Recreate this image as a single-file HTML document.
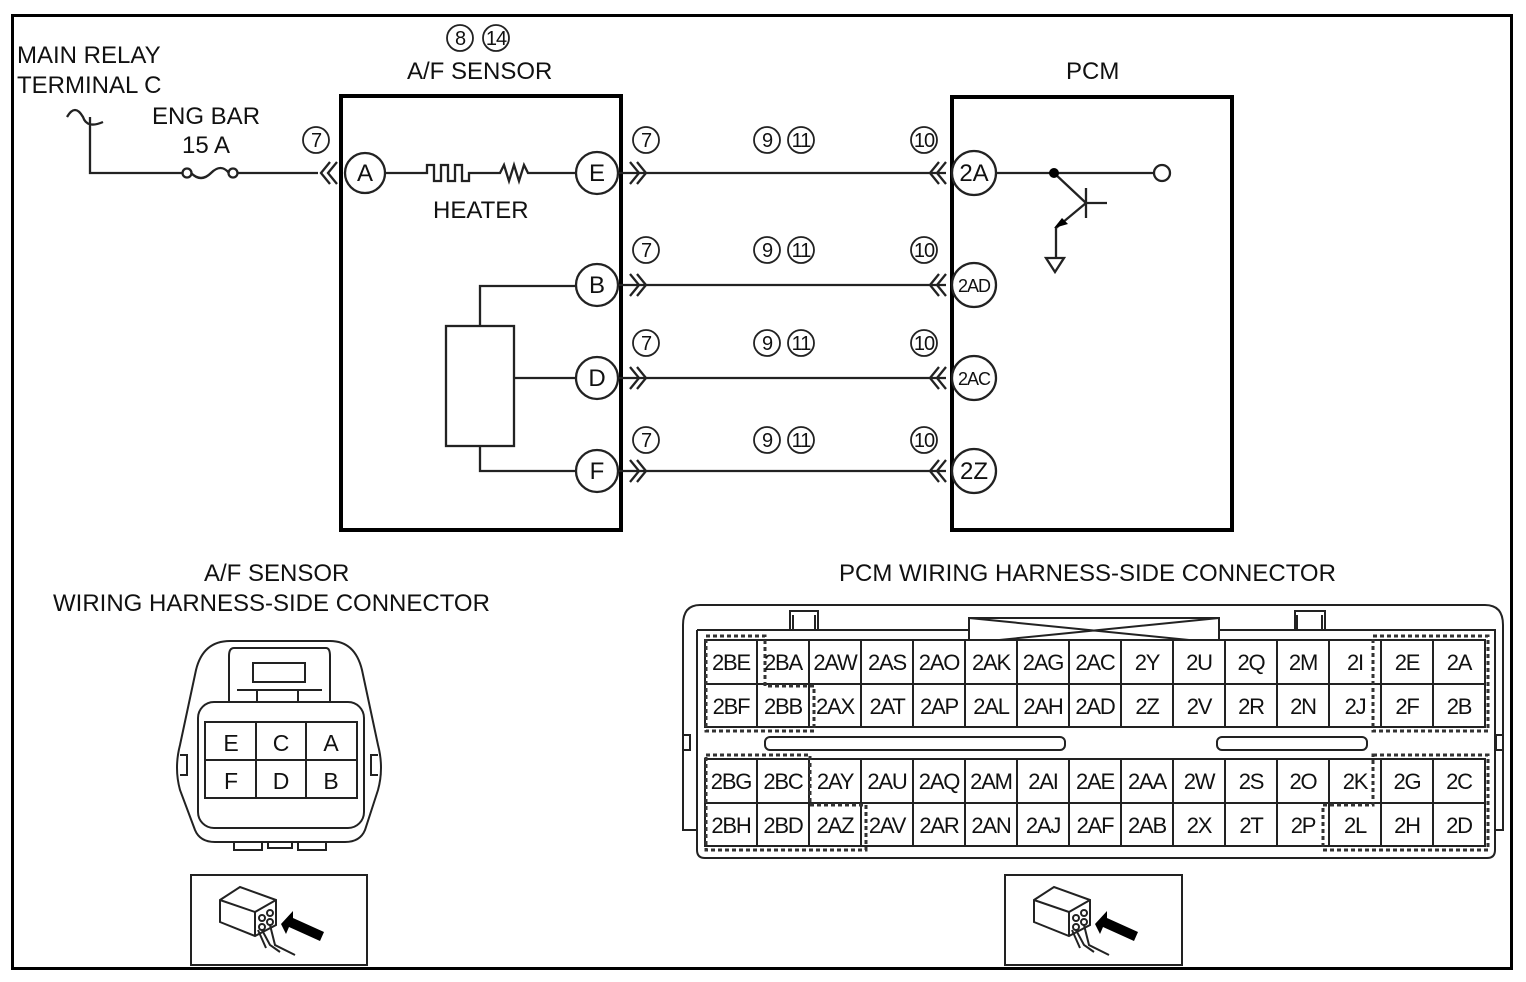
<!DOCTYPE html>
<html><head><meta charset="utf-8"><style>
html,body{margin:0;padding:0;background:#fff;}
svg{display:block;}
text{font-family:"Liberation Sans",Arial,sans-serif;fill:#111;}
</style></head><body>
<svg width="1526" height="982" viewBox="0 0 1526 982" xmlns="http://www.w3.org/2000/svg">
<rect x="0" y="0" width="1526" height="982" fill="#fff"/>
<rect x="12.5" y="15.5" width="1499" height="953" fill="none" stroke="#000" stroke-width="3"/>

<g stroke="#222" stroke-width="2.3" fill="none">
<rect x="341" y="96" width="280" height="434" stroke="#000" stroke-width="4"/>
<rect x="952" y="97" width="280" height="433" stroke="#000" stroke-width="4"/>
<path d="M67,117 q8,-14 16,0 q4,12 20,5"/>
<path d="M90,117 V173 H183"/>
<circle cx="187" cy="173" r="4.5"/><circle cx="233" cy="173" r="4.5"/>
<path d="M191,173 q10,10 20,0 q10,-10 18,0"/>
<path d="M238,173 H318"/>
<path d="M330,162 l-9,11 l9,11 M337,162 l-9,11 l9,11"/>
<path d="M385,173 H427 V165 H434 V181 H441 V165 H448 V181 H455 V165 H462 V181 H469 V173 H500 l4,-8 l5,16 l5,-16 l5,16 l5,-16 l4,8 H577"/>
<rect x="446" y="326" width="68" height="120"/>
<path d="M480,326 V286 H577 M514,378 H577 M480,446 V471 H577"/>
<path d="M617,173 H946 M617,285 H946 M617,378 H946 M617,471 H946"/>
<path d="M630,162 l9,11 l-9,11 M637,162 l9,11 l-9,11"/>
<path d="M630,274 l9,11 l-9,11 M637,274 l9,11 l-9,11"/>
<path d="M630,367 l9,11 l-9,11 M637,367 l9,11 l-9,11"/>
<path d="M630,460 l9,11 l-9,11 M637,460 l9,11 l-9,11"/>
<path d="M939,162 l-9,11 l9,11 M946,162 l-9,11 l9,11"/>
<path d="M939,274 l-9,11 l9,11 M946,274 l-9,11 l9,11"/>
<path d="M939,367 l-9,11 l9,11 M946,367 l-9,11 l9,11"/>
<path d="M939,460 l-9,11 l9,11 M946,460 l-9,11 l9,11"/>
<path d="M995,173 H1154"/>
<circle cx="1162" cy="173" r="8"/>
<path d="M1054,173 L1086,203 M1086,188 V218 M1086,203 H1107 M1086,203 L1056,228 V258"/>
<path d="M1046,258 H1064 L1055,272 Z"/>
<circle cx="365" cy="173" r="20" fill="#fff"/>
<circle cx="597" cy="173" r="21" fill="#fff"/>
<circle cx="597" cy="285" r="21" fill="#fff"/>
<circle cx="597" cy="378" r="21" fill="#fff"/>
<circle cx="597" cy="471" r="21" fill="#fff"/>
<circle cx="974" cy="173" r="22" fill="#fff"/>
<circle cx="974" cy="285" r="22" fill="#fff"/>
<circle cx="974" cy="378" r="22" fill="#fff"/>
<circle cx="974" cy="471" r="22" fill="#fff"/>
<g stroke-width="1.8">
<circle cx="460" cy="38" r="13"/><circle cx="496" cy="38" r="13"/>
<circle cx="316" cy="140" r="13"/>
<circle cx="646" cy="140" r="13"/><circle cx="646" cy="250" r="13"/><circle cx="646" cy="343" r="13"/><circle cx="646" cy="440" r="13"/>
<circle cx="767" cy="140" r="13"/><circle cx="801" cy="140" r="13"/>
<circle cx="767" cy="250" r="13"/><circle cx="801" cy="250" r="13"/>
<circle cx="767" cy="343" r="13"/><circle cx="801" cy="343" r="13"/>
<circle cx="767" cy="440" r="13"/><circle cx="801" cy="440" r="13"/>
<circle cx="924" cy="140" r="13"/><circle cx="924" cy="250" r="13"/><circle cx="924" cy="343" r="13"/><circle cx="924" cy="440" r="13"/>
</g>
</g>
<circle cx="1054" cy="173" r="5" fill="#000"/>
<path d="M1054,228 l14,-4 l-6,-6 Z" fill="#000"/>

<g font-size="24">
<text x="17" y="63">MAIN RELAY</text>
<text x="17" y="93">TERMINAL C</text>
<text x="152" y="124">ENG BAR</text>
<text x="182" y="153">15 A</text>
<text x="407" y="79">A/F SENSOR</text>
<text x="433" y="218">HEATER</text>
<text x="1066" y="79">PCM</text>
<text x="204" y="581">A/F SENSOR</text>
<text x="53" y="611">WIRING HARNESS-SIDE CONNECTOR</text>
<text x="839" y="581">PCM WIRING HARNESS-SIDE CONNECTOR</text>
<text x="365" y="181" text-anchor="middle">A</text>
<text x="597" y="181" text-anchor="middle">E</text>
<text x="597" y="293" text-anchor="middle">B</text>
<text x="597" y="386" text-anchor="middle">D</text>
<text x="597" y="479" text-anchor="middle">F</text>
<text x="974" y="181" text-anchor="middle">2A</text>
<text x="974" y="479" text-anchor="middle">2Z</text>
</g>
<g font-size="18" text-anchor="middle" letter-spacing="-1">
<text x="974" y="292">2AD</text>
<text x="974" y="385">2AC</text>
</g>
<g font-size="20" text-anchor="middle" letter-spacing="-1">
<text x="460" y="45">8</text><text x="496" y="45">14</text>
<text x="316" y="147">7</text>
<text x="646" y="147">7</text><text x="646" y="257">7</text><text x="646" y="350">7</text><text x="646" y="447">7</text>
<text x="767" y="147">9</text><text x="801" y="147">11</text>
<text x="767" y="257">9</text><text x="801" y="257">11</text>
<text x="767" y="350">9</text><text x="801" y="350">11</text>
<text x="767" y="447">9</text><text x="801" y="447">11</text>
<text x="924" y="147">10</text><text x="924" y="257">10</text><text x="924" y="350">10</text><text x="924" y="447">10</text>
</g>

<g stroke="#222" stroke-width="2" fill="none">
<path d="M230,641 H330 Q355,641 362,670 L378,745 Q384,768 378,790 L365,830 Q360,842 345,842 H215 Q200,842 195,830 L180,790 Q174,768 180,745 L196,670 Q203,641 230,641 Z"/>
<path d="M234,648 H326 Q330,648 330,656 V702 M234,648 Q229,648 229,656 V702"/>
<path d="M253,663 H305 V682 H253 Z"/>
<path d="M237,690 H322 M257,690 V702 M298,690 V702"/>
<rect x="198" y="702" width="166" height="126" rx="16"/>
<rect x="205" y="722" width="152" height="76"/>
<path d="M205,760 H357 M256,722 V798 M306,722 V798"/>
<path d="M180,755 H187 V775 H180 M378,755 H371 V775 H378"/>
<path d="M234,842 V850 H262 V842 M268,842 V848 H292 V842 M298,842 V850 H326 V842"/>
</g>
<g font-size="23" text-anchor="middle">
<text x="231" y="751">E</text><text x="281" y="751">C</text><text x="331" y="751">A</text>
<text x="231" y="789">F</text><text x="281" y="789">D</text><text x="331" y="789">B</text>
</g>

<g stroke="#222" stroke-width="2" fill="none">
<rect x="191" y="875" width="176" height="90"/>
<rect x="1005" y="875" width="177" height="90"/>
<g>
<path d="M220,900 L240,887 L276,900 L276,925 L255,936 L220,922 Z M220,900 L255,912 L276,900 M255,912 V936"/>
<circle cx="262" cy="918" r="3"/><circle cx="270" cy="913" r="3"/><circle cx="262" cy="927" r="3"/><circle cx="270" cy="922" r="3"/>
<path d="M262,930 L270,945 L280,952 M270,925 L275,945 L295,955 M258,930 L266,948"/>
</g>
<g transform="translate(814,0)">
<path d="M220,900 L240,887 L276,900 L276,925 L255,936 L220,922 Z M220,900 L255,912 L276,900 M255,912 V936"/>
<circle cx="262" cy="918" r="3"/><circle cx="270" cy="913" r="3"/><circle cx="262" cy="927" r="3"/><circle cx="270" cy="922" r="3"/>
<path d="M262,930 L270,945 L280,952 M270,925 L275,945 L295,955 M258,930 L266,948"/>
</g>
</g>
<path d="M281,924 L293,911 L293,918 L324,932 L320,941 L289,927 L286,934 Z" fill="#000"/>
<path d="M1095,924 L1107,911 L1107,918 L1138,932 L1134,941 L1103,927 L1100,934 Z" fill="#000"/>

<g stroke="#222" stroke-width="2" fill="none">
<path d="M700,605 H1485 Q1503,605 1503,625 V830 H1495 V850 Q1495,858 1487,858 H705 Q697,858 697,850 V830 H683 V625 Q683,605 700,605 Z"/>
<path d="M697,630 H1495 V850"/>
<path d="M697,630 V850"/>
<path d="M790,630 V611 H818 V630 M1295,630 V611 H1325 V630 M1297,630 V615 M1322,630 V615 M793,630 V615 M815,630 V615"/>
<rect x="969" y="618" width="250" height="25" fill="#fff"/>
<path d="M969,618 L1219,643 M969,643 L1219,618"/>
<rect x="765" y="737" width="300" height="13" rx="5"/>
<rect x="1217" y="737" width="150" height="13" rx="5"/>
<path d="M683,735 H690 V750 H683 M1503,735 H1496 V750 H1503"/>
<rect x="705" y="640" width="780" height="87" fill="#fff"/>
<rect x="705" y="759" width="780" height="87" fill="#fff"/>
<path d="M705,684 H1485 M705,803 H1485"/>
<path d="M757,640 V727 M809,640 V727 M861,640 V727 M913,640 V727 M965,640 V727 M1017,640 V727 M1069,640 V727 M1121,640 V727 M1173,640 V727 M1225,640 V727 M1277,640 V727 M1329,640 V727 M1381,640 V727 M1433,640 V727"/>
<path d="M757,759 V846 M809,759 V846 M861,759 V846 M913,759 V846 M965,759 V846 M1017,759 V846 M1069,759 V846 M1121,759 V846 M1173,759 V846 M1225,759 V846 M1277,759 V846 M1329,759 V846 M1381,759 V846 M1433,759 V846"/>
</g>
<g stroke="#333" stroke-width="3" fill="none" stroke-dasharray="4,3">
<path d="M706,636 H765 V686 H814 V731 H706 Z"/>
<path d="M1373,636 H1488 V731 H1373 Z"/>
<path d="M706,755 H810 V805 H866 V850 H706 Z"/>
<path d="M1373,755 H1488 V850 H1323 V805 H1373 Z"/>
</g>
<g font-size="22" text-anchor="middle" letter-spacing="-1.2">
<text x="731" y="670">2BE</text><text x="783" y="670">2BA</text><text x="835" y="670">2AW</text><text x="887" y="670">2AS</text><text x="939" y="670">2AO</text><text x="991" y="670">2AK</text><text x="1043" y="670">2AG</text><text x="1095" y="670">2AC</text><text x="1147" y="670">2Y</text><text x="1199" y="670">2U</text><text x="1251" y="670">2Q</text><text x="1303" y="670">2M</text><text x="1355" y="670">2I</text><text x="1407" y="670">2E</text><text x="1459" y="670">2A</text>
<text x="731" y="714">2BF</text><text x="783" y="714">2BB</text><text x="835" y="714">2AX</text><text x="887" y="714">2AT</text><text x="939" y="714">2AP</text><text x="991" y="714">2AL</text><text x="1043" y="714">2AH</text><text x="1095" y="714">2AD</text><text x="1147" y="714">2Z</text><text x="1199" y="714">2V</text><text x="1251" y="714">2R</text><text x="1303" y="714">2N</text><text x="1355" y="714">2J</text><text x="1407" y="714">2F</text><text x="1459" y="714">2B</text>
<text x="731" y="789">2BG</text><text x="783" y="789">2BC</text><text x="835" y="789">2AY</text><text x="887" y="789">2AU</text><text x="939" y="789">2AQ</text><text x="991" y="789">2AM</text><text x="1043" y="789">2AI</text><text x="1095" y="789">2AE</text><text x="1147" y="789">2AA</text><text x="1199" y="789">2W</text><text x="1251" y="789">2S</text><text x="1303" y="789">2O</text><text x="1355" y="789">2K</text><text x="1407" y="789">2G</text><text x="1459" y="789">2C</text>
<text x="731" y="833">2BH</text><text x="783" y="833">2BD</text><text x="835" y="833">2AZ</text><text x="887" y="833">2AV</text><text x="939" y="833">2AR</text><text x="991" y="833">2AN</text><text x="1043" y="833">2AJ</text><text x="1095" y="833">2AF</text><text x="1147" y="833">2AB</text><text x="1199" y="833">2X</text><text x="1251" y="833">2T</text><text x="1303" y="833">2P</text><text x="1355" y="833">2L</text><text x="1407" y="833">2H</text><text x="1459" y="833">2D</text>
</g>
</svg>
</body></html>
